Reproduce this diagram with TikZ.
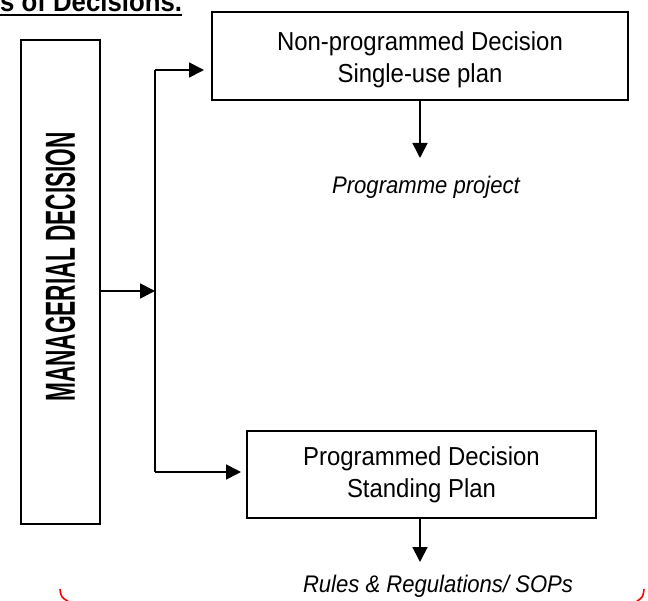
\documentclass[tikz,border=0pt]{standalone}
\usepackage{fontspec}
\setmainfont{Liberation Sans}
\newfontfamily\boxfont[FakeStretch=0.92]{Liberation Sans}
\newfontfamily\tallfont[FakeStretch=0.54]{Liberation Sans}
\usetikzlibrary{arrows.meta}
\begin{document}
\begin{tikzpicture}[x=1pt,y=-1pt,
  box/.style={draw,line width=2pt,inner sep=0pt,align=center},
  arr/.style={line width=1.7pt,-{Triangle[length=15pt,width=15pt]}},
  plain/.style={line width=1.7pt},
  boxtext/.style={font=\boxfont\fontsize{26}{32}\selectfont},
  note/.style={font=\boxfont\itshape\fontsize{24}{28}\selectfont,inner sep=0pt}]
\useasboundingbox (0,0) rectangle (648,601);

% heading, cut at the top edge
\node[anchor=base west,inner sep=0pt,font=\boxfont\bfseries\fontsize{28}{30}\selectfont] (title) at (0,12) {s of Decisions.};
\draw[line width=2pt] ([yshift=-3pt]title.base west) -- ([yshift=-3pt]title.base east);

% main boxes
\node[box,minimum width=79pt,minimum height=484pt] (md) at (60.5,282)
  {\rotatebox{90}{\hspace*{30pt}\tallfont\bfseries\fontsize{42}{42}\selectfont MANAGERIAL DECISION}};
\node[box,boxtext,minimum width=416pt,minimum height=88pt] (npd) at (420,56)
  {\rule{0pt}{27pt}Non-programmed Decision\\Single-use plan};
\node[box,boxtext,minimum width=349pt,minimum height=87pt] (pd) at (421.5,474.5)
  {Programmed Decision\\Standing Plan};

% outcome labels
\node[note] (pp) at (426,187) {Programme project};
\node[note] (rr) at (438,586) {Rules \& Regulations/ SOPs};

% branching points and arrow tips
\coordinate (jm) at (155,291);
\coordinate (ja) at (155,70);
\coordinate (jb) at (155,472);
\coordinate (t1) at (420,158);
\coordinate (t2) at (420,562);

\draw[arr] (md.east |- jm) -- (jm);
\draw[plain] (ja) -- (jb);
\draw[arr,shorten >=7pt] (ja) -- (ja -| npd.west);
\draw[arr,shorten >=5pt] (jb) -- (jb -| pd.west);
\draw[arr] (npd.south -| t1) -- (t1);
\draw[arr] (pd.south -| t2) -- (t2);

% red marks along the bottom edge
\draw[red,line width=1.6pt] (60,589) .. controls (61,597) .. (69,602);
\draw[red,line width=1.6pt] (644,589) .. controls (643,597) .. (636,602);
\end{tikzpicture}
\end{document}
